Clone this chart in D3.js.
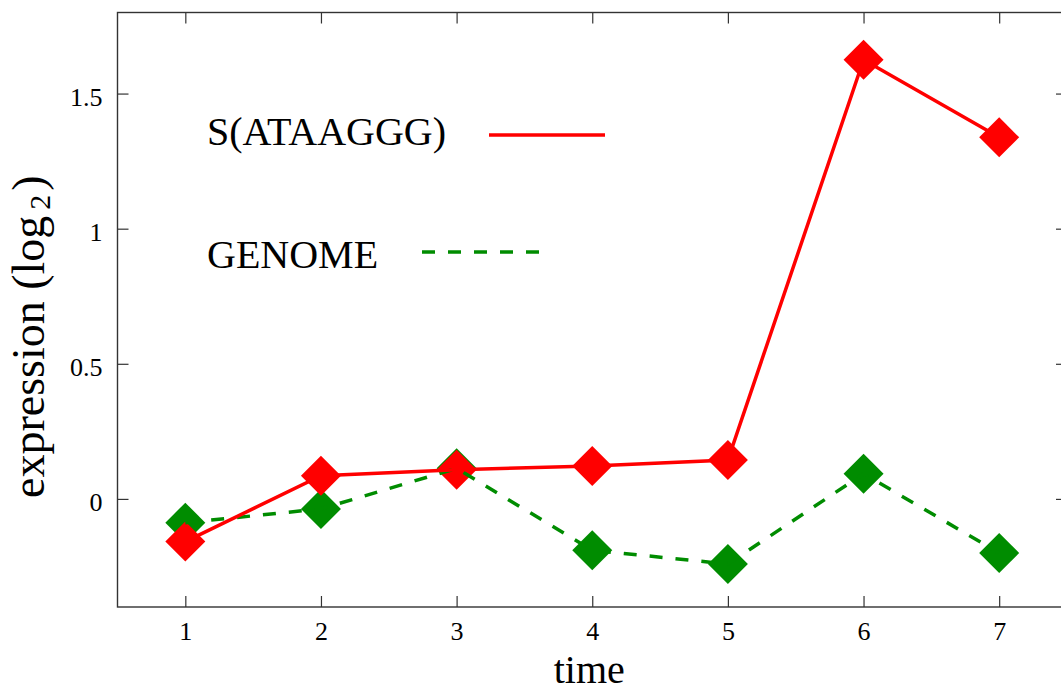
<!DOCTYPE html>
<html>
<head>
<meta charset="utf-8">
<script src="https://cdn.jsdelivr.net/npm/d3@7"></script>
<style>
  html, body { margin: 0; padding: 0; background: #fff; }
  svg { display: block; }
  text { font-family: "Liberation Serif", "Times New Roman", serif; fill: #000; }
</style>
</head>
<body>
<script>
const times = [1, 2, 3, 4, 5, 6, 7];
const motifValues = [-0.158, 0.086, 0.108, 0.122, 0.144, 1.625, 1.338];
const genomeValues = [-0.088, -0.037, 0.113, -0.190, -0.241, 0.093, -0.200];
const xTicks = [1, 2, 3, 4, 5, 6, 7];
const yTicks = [0, 0.5, 1, 1.5];
const seriesNames = ["S(ATAAGGG)", "GENOME"];

const W = 1061, H = 692;
const svg = d3.select("body").append("svg").attr("width", W).attr("height", H);

const mLeft = 117.5, mRight = 1067, mTop = 12.5, mBottom = 607;
const x = d3.scaleLinear().domain([0.5, 7.5]).range([mLeft, mRight]);
const y = d3.scaleLinear().domain([-0.4, 1.8]).range([mBottom, mTop]);

const frameColor = "#333";
const FONT = '"Liberation Serif", "Times New Roman", serif';

// axes with inward ticks
const gB = svg.append("g").attr("transform", `translate(0,${mBottom})`)
  .call(d3.axisBottom(x).tickValues(xTicks).tickFormat(d3.format("d")).tickSizeInner(-11).tickSizeOuter(0));
gB.select(".domain").remove();
gB.selectAll(".tick line").attr("stroke", frameColor).attr("stroke-width", 1.2);
gB.selectAll(".tick text").attr("y", 33).attr("dy", 0).style("font-size", "26px")
  .style("font-family", FONT).attr("fill", "#000");

const gT = svg.append("g").attr("transform", `translate(0,${mTop})`)
  .call(d3.axisTop(x).tickValues(xTicks).tickFormat("").tickSizeInner(-11).tickSizeOuter(0));
gT.select(".domain").remove();
gT.selectAll(".tick line").attr("stroke", frameColor).attr("stroke-width", 1.2);

const gL = svg.append("g").attr("transform", `translate(${mLeft},0)`)
  .call(d3.axisLeft(y).tickValues(yTicks).tickFormat(d => d === 0 ? "0" : String(d)).tickSizeInner(-11).tickSizeOuter(0).tickPadding(15));
gL.select(".domain").remove();
gL.selectAll(".tick line").attr("stroke", frameColor).attr("stroke-width", 1.2);
gL.selectAll(".tick text").attr("dy", 12).style("font-size", "26px")
  .style("font-family", FONT).attr("fill", "#000");

const gR = svg.append("g").attr("transform", `translate(${mRight},0)`)
  .call(d3.axisRight(y).tickValues(yTicks).tickFormat("").tickSizeInner(-11).tickSizeOuter(0));
gR.select(".domain").remove();
gR.selectAll(".tick line").attr("stroke", frameColor).attr("stroke-width", 1.2);

// frame
svg.append("rect").attr("x", mLeft).attr("y", mTop).attr("width", mRight - mLeft).attr("height", mBottom - mTop)
  .attr("fill", "none").attr("stroke", frameColor).attr("stroke-width", 1.4);

const red = "#ff0000", green = "#008c00";
const diamond = d3.symbol().type(d3.symbolSquare).size(2 * 20 * 20);

function drawPoints(vals, color) {
  svg.append("g").selectAll("path").data(vals).join("path")
    .attr("d", diamond)
    .attr("transform", (d, i) => `translate(${x(times[i])},${y(d)}) rotate(45)`)
    .attr("fill", color);
}
function drawLine(vals, color, dash) {
  const line = d3.line().x((d, i) => x(times[i])).y(d => y(d));
  svg.append("path").datum(vals).attr("d", line)
    .attr("fill", "none").attr("stroke", color).attr("stroke-width", 3.5)
    .attr("stroke-dasharray", dash || null);
}
drawPoints(genomeValues, green);
drawPoints(motifValues, red);
drawLine(genomeValues, green, "13,13");
drawLine(motifValues, red, null);

// legend
svg.append("text").attr("x", 207).attr("y", 145).style("font-size", "40px").text(seriesNames[0]);
svg.append("line").attr("x1", 489).attr("x2", 605).attr("y1", 135).attr("y2", 135)
  .attr("stroke", red).attr("stroke-width", 3.5);
svg.append("text").attr("x", 207).attr("y", 268).style("font-size", "40px").text(seriesNames[1]);
svg.append("line").attr("x1", 422).attr("x2", 540).attr("y1", 252).attr("y2", 252)
  .attr("stroke", green).attr("stroke-width", 3.5).attr("stroke-dasharray", "13,13");

// axis titles
svg.append("text").attr("x", (mLeft + mRight) / 2 - 3).attr("y", 683).attr("text-anchor", "middle")
  .style("font-size", "40px").text("time");
const yt = svg.append("text").attr("transform", "translate(44,498) rotate(-90)")
  .attr("text-anchor", "start").style("font-size", "46px");
yt.append("tspan").text("expression (log");
yt.append("tspan").attr("dx", 6).attr("dy", 6).style("font-size", "30px").text("2");
yt.append("tspan").attr("dx", 4).attr("dy", -6).text(")");
</script>
</body>
</html>
